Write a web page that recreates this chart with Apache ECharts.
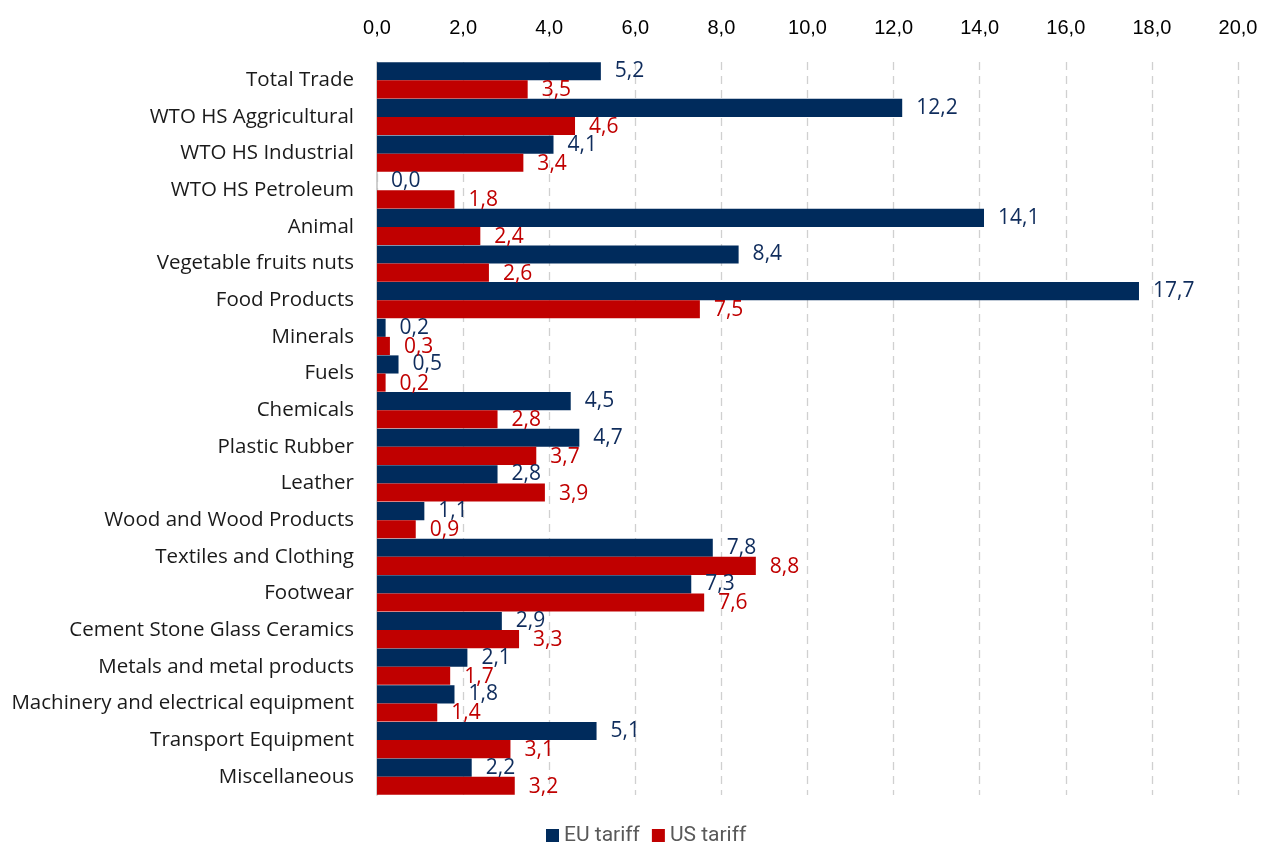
<!DOCTYPE html>
<html><head><meta charset="utf-8">
<script src="https://cdn.jsdelivr.net/npm/echarts@6/dist/echarts.min.js"></script>
<style>html,body{margin:0;padding:0;background:#fff}#c{width:1261px;height:843px}</style>
</head><body><div id="c"></div>
<script>
const categories = ["Total Trade","WTO HS Aggricultural","WTO HS Industrial","WTO HS Petroleum","Animal","Vegetable fruits nuts","Food Products","Minerals","Fuels","Chemicals","Plastic Rubber","Leather","Wood and Wood Products","Textiles and Clothing","Footwear","Cement Stone Glass Ceramics","Metals and metal products","Machinery and electrical equipment","Transport Equipment","Miscellaneous"];
const euTariff = [5.2,12.2,4.1,0.0,14.1,8.4,17.7,0.2,0.5,4.5,4.7,2.8,1.1,7.8,7.3,2.9,2.1,1.8,5.1,2.2];
const usTariff = [3.5,4.6,3.4,1.8,2.4,2.6,7.5,0.3,0.2,2.8,3.7,3.9,0.9,8.8,7.6,3.3,1.7,1.4,3.1,3.2];
const xTicks = {min:0,max:20,interval:2};
const fmt = v => v.toFixed(1).replace('.', ',');
const chart = echarts.init(document.getElementById('c'));
chart.setOption({
  animation:false,
  grid:{left:377,right:23,top:62,bottom:48},
  legend:{top:820,left:541,itemWidth:13,itemHeight:13,itemGap:12,icon:'rect',
    textStyle:{fontFamily:'Roboto',fontSize:21,color:'#595959'},data:['EU tariff','US tariff']},
  xAxis:{type:'value',position:'top',min:xTicks.min,max:xTicks.max,interval:xTicks.interval,
    axisLine:{show:false},axisTick:{show:false},
    axisLabel:{formatter:v=>fmt(v),fontFamily:'Liberation Sans, Arial, sans-serif',fontSize:20,color:'#000',margin:24},
    splitLine:{lineStyle:{type:[8,6],color:'#d0d0d0',width:1.3}}},
  yAxis:{type:'category',inverse:true,data:categories,
    axisLine:{show:true,lineStyle:{color:'#bfbfbf',width:1.5}},axisTick:{show:false},
    axisLabel:{fontFamily:'Open Sans, sans-serif',fontSize:20.5,color:'#1a1a1a',margin:23}},
  series:[
    {name:'EU tariff',type:'bar',data:euTariff,barGap:'0%',barCategoryGap:'1%',itemStyle:{color:'#002B5C'},
     label:{show:true,position:'right',distance:14,offset:[0,0],formatter:p=>fmt(p.value),fontFamily:'Open Sans, sans-serif',fontSize:21,color:'#0f2c5c'}},
    {name:'US tariff',type:'bar',data:usTariff,itemStyle:{color:'#C00000'},
     label:{show:true,position:'right',distance:14,offset:[0,1],formatter:p=>fmt(p.value),fontFamily:'Open Sans, sans-serif',fontSize:21,color:'#C00000'}}
  ]
});
</script></body></html>
